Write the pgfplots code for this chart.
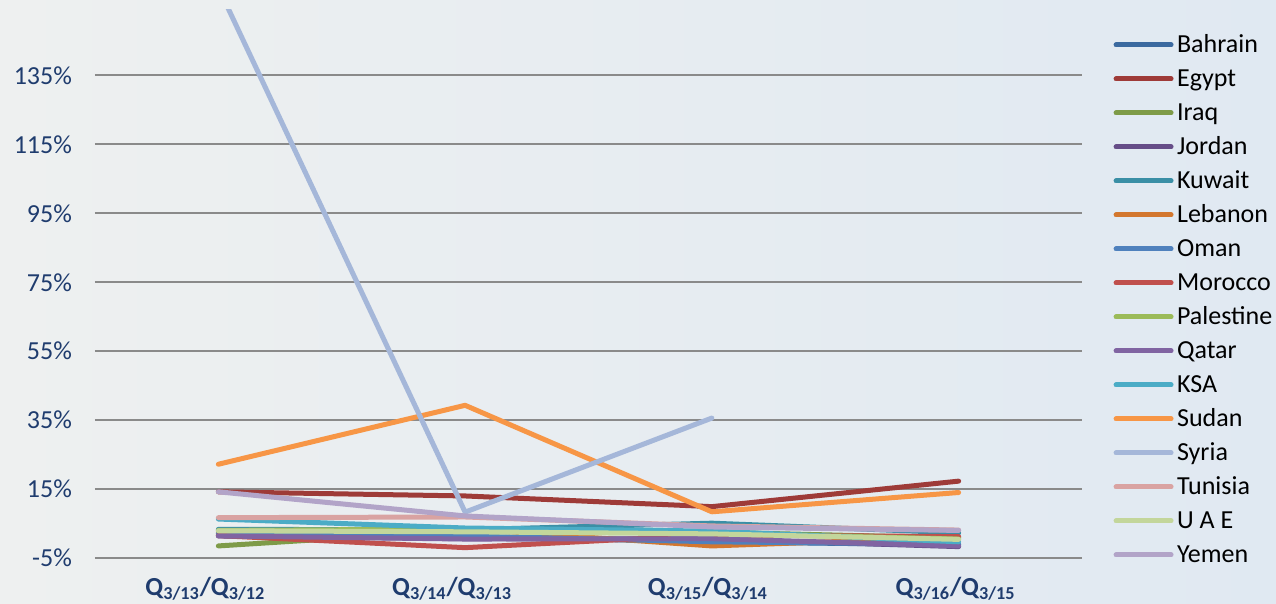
\documentclass[border=0pt]{standalone}
\usepackage{pgfplots}
\pgfplotsset{compat=1.18}
\usepackage{pgfplotstable}
\usepackage{fontspec}
\setmainfont{Carlito}

\definecolor{cBahrain}{HTML}{3B6AA0}
\definecolor{cEgypt}{HTML}{9E3B38}
\definecolor{cIraq}{HTML}{7E9B48}
\definecolor{cJordan}{HTML}{664E88}
\definecolor{cKuwait}{HTML}{3A8FA6}
\definecolor{cLebanon}{HTML}{D3772E}
\definecolor{cOman}{HTML}{4F81BD}
\definecolor{cMorocco}{HTML}{C0504D}
\definecolor{cPalestine}{HTML}{9BBB59}
\definecolor{cQatar}{HTML}{8064A2}
\definecolor{cKSA}{HTML}{4BACC6}
\definecolor{cSudan}{HTML}{F79646}
\definecolor{cSyria}{HTML}{A5B7D9}
\definecolor{cTunisia}{HTML}{D9A3A2}
\definecolor{cUAE}{HTML}{C3D69B}
\definecolor{cYemen}{HTML}{B2A4C8}
\definecolor{navy}{HTML}{1F3C6E}
\definecolor{gridgray}{HTML}{8A8A8A}

% growth rates, %
\pgfplotstableread{
x Bahrain Egypt Iraq Jordan Kuwait Lebanon Oman Morocco Palestine Qatar KSA Sudan Syria Tunisia UAE Yemen
0 2.0 14.2 -1.5 1.4 3.3 2.5 2.0 1.5 3.0 1.4 6.3 22.2 160.5 6.7 2.9 14.2
1 1.2 13.0 3.0 0.6 3.2 3.5 1.4 -2.0 3.4 0.5 3.7 39.3 8.3 6.9 2.6 7.2
2 -0.3 9.9 2.5 0.5 5.1 -1.5 -0.3 1.7 2.2 0.6 2.8 8.4 35.6 4.3 2.0 4.0
3 -1.2 17.3 0.8 -1.7 2.3 1.0 -1.0 1.2 0.5 -1.5 -0.3 14.0 nan 3.1 0.4 3.0
}\growth

\begin{document}
\begin{tikzpicture}
\shade[left color={rgb,255:red,238;green,240;blue,240}, right color={rgb,255:red,224;green,233;blue,242}]
  (-47.5pt,-23pt) rectangle (590.5pt,279pt);
\begin{axis}[
    scale only axis,
    width=493.5pt, height=274pt,
    xmin=-0.5, xmax=3.5,
    ymin=-5, ymax=154,
    axis line style={draw=none},
    major tick length=0pt,
    ymajorgrids,
    grid style={color=gridgray, line width=1pt},
    ytick={-5,15,35,55,75,95,115,135},
    yticklabels={-5\%,15\%,35\%,55\%,75\%,95\%,115\%,135\%},
    yticklabel style={font=\fontsize{13}{15}\selectfont, text=navy, xshift=-8pt},
    xtick={0,1,2,3},
    xticklabels={
      Q\textsubscript{3/13}/Q\textsubscript{3/12}\hspace*{13pt},
      Q\textsubscript{3/14}/Q\textsubscript{3/13}\hspace*{13pt},
      Q\textsubscript{3/15}/Q\textsubscript{3/14}\hspace*{4pt},
      Q\textsubscript{3/16}/Q\textsubscript{3/15}\hspace*{3pt}},
    xticklabel style={font=\fontsize{13}{15}\selectfont\bfseries, text=navy, yshift=-6pt},
    every axis plot/.append style={line width=2.5pt, line cap=round, line join=round},
    legend cell align=left,
    legend image code/.code={\draw[#1] (0pt,2.5pt) -- (27.5pt,2.5pt);},
    legend style={draw=none, fill=none, at={(1.032,1.0)}, anchor=north west,
      yshift=-11.5pt, inner sep=0pt, outer sep=0pt,
      font=\fontsize{13}{15}\selectfont, row sep=0pt,
      nodes={inner xsep=1.75pt, inner ysep=0pt, text height=10pt, text depth=7pt}},
]
\addplot[cBahrain] table[x=x, y=Bahrain] {\growth};
\addplot[cEgypt] table[x=x, y=Egypt] {\growth};
\addplot[cIraq] table[x=x, y=Iraq] {\growth};
\addplot[cJordan] table[x=x, y=Jordan] {\growth};
\addplot[cKuwait] table[x=x, y=Kuwait] {\growth};
\addplot[cLebanon] table[x=x, y=Lebanon] {\growth};
\addplot[cOman] table[x=x, y=Oman] {\growth};
\addplot[cMorocco] table[x=x, y=Morocco] {\growth};
\addplot[cPalestine] table[x=x, y=Palestine] {\growth};
\addplot[cQatar] table[x=x, y=Qatar] {\growth};
\addplot[cKSA] table[x=x, y=KSA] {\growth};
\addplot[cSudan] table[x=x, y=Sudan] {\growth};
\addplot[cSyria] table[x=x, y=Syria] {\growth};
\addplot[cTunisia] table[x=x, y=Tunisia] {\growth};
\addplot[cUAE] table[x=x, y=UAE] {\growth};
\addplot[cYemen] table[x=x, y=Yemen] {\growth};
\legend{Bahrain,Egypt,Iraq,Jordan,Kuwait,Lebanon,Oman,Morocco,Palestine,Qatar,KSA,Sudan,Syria,Tunisia,U A E,Yemen}
\end{axis}
\pgfresetboundingbox
\path[use as bounding box] (-47.5pt,-23pt) rectangle (590.5pt,279pt);
\end{tikzpicture}
\end{document}
